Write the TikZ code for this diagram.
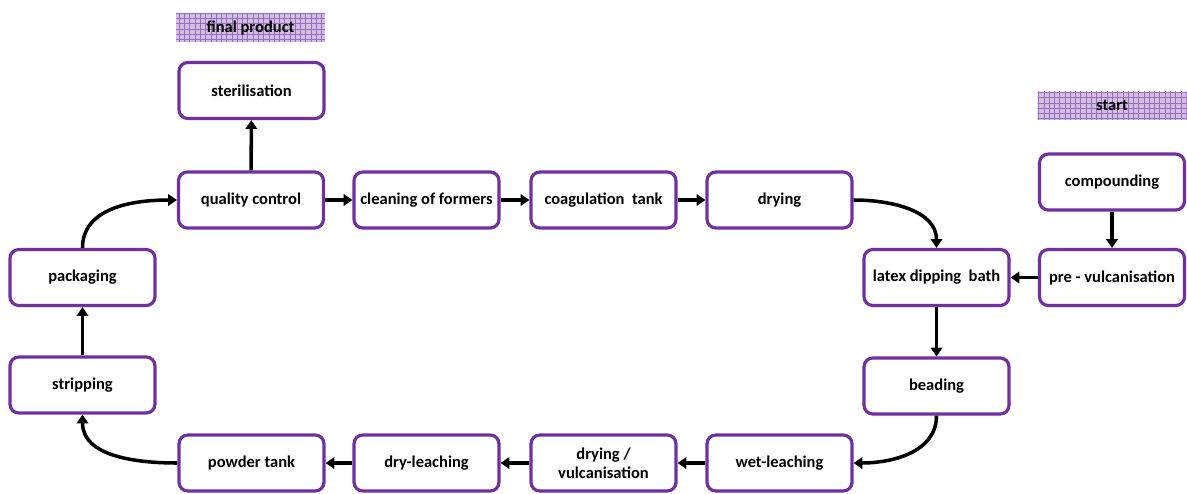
\documentclass[tikz,border=0pt]{standalone}
\usepackage{fontspec}
\setmainfont{Carlito}
\usetikzlibrary{arrows.meta,patterns}
\definecolor{boxpurple}{RGB}{112,48,160}
\definecolor{tagfill}{RGB}{210,190,226}
\definecolor{taggrid}{RGB}{150,110,190}
\tikzset{
  proc/.style={draw=boxpurple, line width=1.8pt, fill=white, rounded corners=5pt,
               minimum width=2.9cm, minimum height=1.12cm, align=center,
               font=\fontsize{9.4}{11}\selectfont\bfseries},
  tag/.style={fill=tagfill, postaction={pattern=grid, pattern color=taggrid},
              minimum width=2.98cm, minimum height=0.56cm,
              font=\fontsize{9.4}{11}\selectfont\bfseries},
  arr/.style={-{Triangle[length=5pt,width=6.5pt]}, line width=2pt, black},
}
\begin{document}
\begin{tikzpicture}
  \useasboundingbox (0,0) rectangle (23.74,9.86);
  % labels
  \node[tag] (final) at (5.01,9.31) {final product};
  \node[tag] (start) at (22.24,7.75) {start};
  % top row
  \node[proc] (steril) at (5.03,8.05) {sterilisation};
  \node[proc] (qc) at (5.02,5.86) {quality control};
  \node[proc] (clean) at (8.53,5.86) {cleaning of formers};
  \node[proc] (coag) at (12.07,5.86) {coagulation\ \ tank};
  \node[proc] (dry) at (15.59,5.86) {drying};
  % right side
  \node[proc] (comp) at (22.24,6.22) {compounding};
  \node[proc] (prevulc) at (22.24,4.31) {pre - vulcanisation};
  \node[proc] (latex) at (18.73,4.31) {latex dipping\ \ bath};
  \node[proc] (bead) at (18.73,2.14) {beading};
  % bottom row
  \node[proc] (wet) at (15.59,0.60) {wet-leaching};
  \node[proc] (dryvulc) at (12.07,0.60) {drying /\\vulcanisation};
  \node[proc] (dryleach) at (8.53,0.60) {dry-leaching};
  \node[proc] (powder) at (5.03,0.60) {powder tank};
  % left side
  \node[proc] (strip) at (1.65,2.16) {stripping};
  \node[proc] (pack) at (1.65,4.31) {packaging};

  % connectors
  \draw[arr] (comp) -- (prevulc);
  \draw[arr] (prevulc) -- (latex);
  \draw[arr] (latex) -- (bead);
  \draw[arr] (bead.south) to[out=-90,in=0] (wet.east);
  \draw[arr] (wet) -- (dryvulc);
  \draw[arr] (dryvulc) -- (dryleach);
  \draw[arr] (dryleach) -- (powder);
  \draw[arr] (powder.west) to[out=180,in=-90] (strip.south);
  \draw[arr] (strip) -- (pack);
  \draw[arr] (pack.north) to[out=90,in=180] (qc.west);
  \draw[arr] (qc) -- (clean);
  \draw[arr] (clean) -- (coag);
  \draw[arr] (coag) -- (dry);
  \draw[arr] (dry.east) to[out=0,in=90] (latex.north);
  \draw[arr] (qc) -- (steril);
\end{tikzpicture}
\end{document}
